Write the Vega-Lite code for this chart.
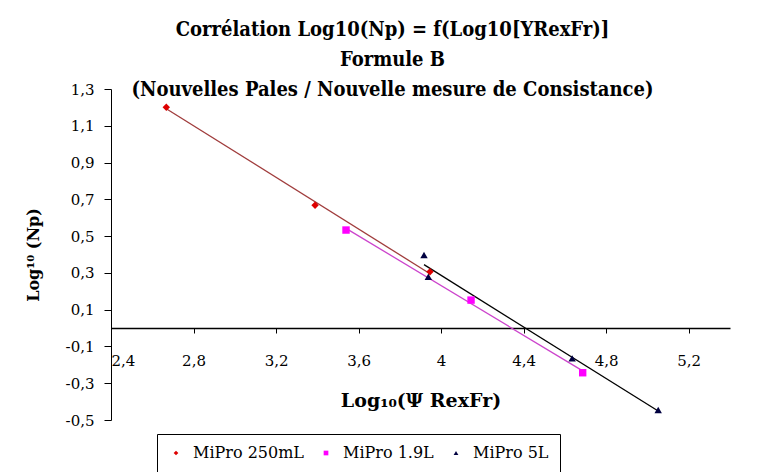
{
  "$schema": "https://vega.github.io/schema/vega-lite/v6.json",
  "autosize": "none",
  "width": 619,
  "height": 331,
  "padding": {"left": 111, "top": 89, "right": 49, "bottom": 52},
  "background": "white",
  "config": {
    "view": {"stroke": null},
    "locale": {"number": {"decimal": ",", "thousands": ".", "grouping": [3], "currency": ["", " €"], "minus": "-"}}
  },
  "title": {
    "text": ["Corrélation Log10(Np) = f(Log10[YRexFr)]", "Formule B", "(Nouvelles Pales / Nouvelle mesure de Consistance)"],
    "font": "DejaVu Serif Condensed",
    "fontSize": 20,
    "fontWeight": "bold",
    "lineHeight": 30,
    "color": "black",
    "anchor": "middle",
    "frame": "group",
    "dx": -28,
    "offset": -18
  },
  "data": {
    "values": [
      {"series": "MiPro 250mL", "x": 2.668, "y": 1.201},
      {"series": "MiPro 250mL", "x": 3.389, "y": 0.668},
      {"series": "MiPro 250mL", "x": 3.946, "y": 0.306},
      {"series": "MiPro 1.9L", "x": 3.539, "y": 0.533},
      {"series": "MiPro 1.9L", "x": 4.145, "y": 0.152},
      {"series": "MiPro 1.9L", "x": 4.686, "y": -0.243},
      {"series": "MiPro 5L", "x": 3.917, "y": 0.397},
      {"series": "MiPro 5L", "x": 3.938, "y": 0.279},
      {"series": "MiPro 5L", "x": 4.635, "y": -0.165},
      {"series": "MiPro 5L", "x": 5.052, "y": -0.446}
    ]
  },
  "encoding": {
    "x": {
      "field": "x", "type": "quantitative",
      "scale": {"domain": [2.4, 5.4], "nice": false, "zero": false},
      "axis": {
        "title": "Log₁₀(Ψ RexFr)",
        "values": [2.4, 2.8, 3.2, 3.6, 4, 4.4, 4.8, 5.2],
        "format": "~f",
        "offset": -92,
        "grid": false,
        "domainColor": "black", "domainWidth": 1.5,
        "tickColor": "black", "tickSize": 5, "tickWidth": 1,
        "labelFont": "DejaVu Serif", "labelFontSize": 15, "labelColor": "black",
        "labelPadding": 20,
        "titleFont": "DejaVu Serif", "titleFontSize": 19, "titleFontWeight": "bold", "titleColor": "black",
        "titlePadding": 23
      }
    },
    "y": {
      "field": "y", "type": "quantitative",
      "scale": {"domain": [-0.5, 1.3], "nice": false, "zero": false},
      "axis": {
        "title": "Log¹⁰ (Np)",
        "values": [-0.5, -0.3, -0.1, 0.1, 0.3, 0.5, 0.7, 0.9, 1.1, 1.3],
        "format": ".1f",
        "grid": false,
        "domainColor": "black", "domainWidth": 1,
        "tickColor": "black", "tickSize": 7, "tickWidth": 1,
        "labelFont": "DejaVu Serif", "labelFontSize": 15, "labelColor": "black",
        "labelPadding": 10,
        "titleFont": "DejaVu Serif", "titleFontSize": 16, "titleFontWeight": "bold", "titleColor": "black",
        "titlePadding": 24
      }
    }
  },
  "layer": [
    {
      "transform": [{"filter": "datum.series === 'MiPro 250mL'"}, {"regression": "y", "on": "x"}],
      "mark": {"type": "line", "strokeWidth": 1.3, "color": "#a03c3c"},
      "encoding": {}
    },
    {
      "transform": [{"filter": "datum.series === 'MiPro 1.9L'"}, {"regression": "y", "on": "x"}],
      "mark": {"type": "line", "strokeWidth": 1.3, "color": "#cc44cc"},
      "encoding": {}
    },
    {
      "transform": [{"filter": "datum.series === 'MiPro 5L'"}, {"regression": "y", "on": "x"}],
      "mark": {"type": "line", "strokeWidth": 1.3, "color": "#000000"},
      "encoding": {}
    },
    {
      "mark": {"type": "point", "filled": true, "opacity": 1, "size": 55},
      "encoding": {
        "color": {
          "field": "series", "type": "nominal",
          "scale": {"domain": ["MiPro 250mL", "MiPro 1.9L", "MiPro 5L"], "range": ["#dd0000", "#ff00ff", "#000040"]},
          "legend": {
            "title": null,
            "orient": "none",
            "direction": "horizontal",
            "legendX": 46,
            "legendY": 345,
            "strokeColor": "black",
            "fillColor": "white",
            "padding": 11,
            "symbolSize": 22,
            "labelFont": "DejaVu Serif",
            "labelFontSize": 16,
            "labelColor": "black",
            "labelOffset": 9,
            "columnPadding": 14
          }
        },
        "shape": {
          "field": "series", "type": "nominal",
          "scale": {"domain": ["MiPro 250mL", "MiPro 1.9L", "MiPro 5L"], "range": ["diamond", "square", "triangle-up"]},
          "legend": {
            "title": null,
            "orient": "none",
            "direction": "horizontal",
            "legendX": 46,
            "legendY": 345,
            "strokeColor": "black",
            "fillColor": "white",
            "padding": 11,
            "symbolSize": 22,
            "labelFont": "DejaVu Serif",
            "labelFontSize": 16,
            "labelColor": "black",
            "labelOffset": 9,
            "columnPadding": 14
          }
        }
      }
    }
  ]
}
